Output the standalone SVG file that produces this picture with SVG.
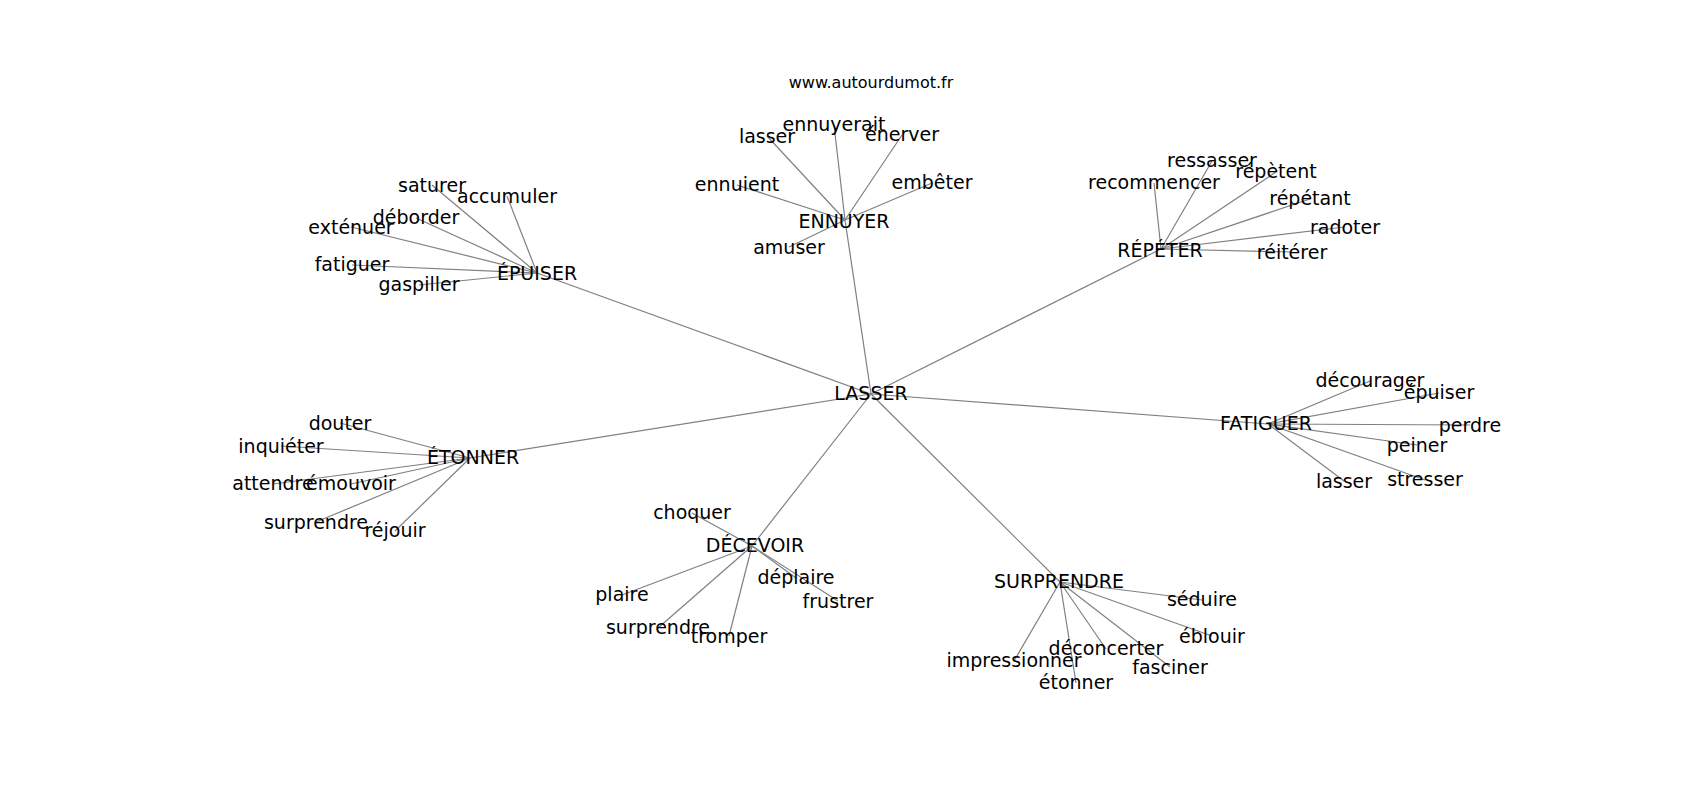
<svg xmlns="http://www.w3.org/2000/svg" width="1700" height="800" viewBox="0 0 1700 800">
<style>
text{font-family:"DejaVu Sans","Liberation Sans",sans-serif;font-size:19px;fill:#000;text-anchor:middle}
.t{font-size:16px}
#edges line{stroke:#808080;stroke-width:1.2}
</style>
<rect width="1700" height="800" fill="#fff"/>
<text class="t" x="871" y="88">www.autourdumot.fr</text>
<g id="edges">
<line x1="871" y1="394" x2="537" y2="273"/>
<line x1="871" y1="394" x2="845" y2="220"/>
<line x1="871" y1="394" x2="1161" y2="249"/>
<line x1="871" y1="394" x2="1268" y2="424"/>
<line x1="871" y1="394" x2="470" y2="458"/>
<line x1="871" y1="394" x2="752" y2="546"/>
<line x1="871" y1="394" x2="1060" y2="582"/>
<line x1="537" y1="273" x2="432" y2="185"/>
<line x1="537" y1="273" x2="507" y2="196"/>
<line x1="537" y1="273" x2="416" y2="218"/>
<line x1="537" y1="273" x2="351" y2="227"/>
<line x1="537" y1="273" x2="352" y2="265"/>
<line x1="537" y1="273" x2="419" y2="285"/>
<line x1="845" y1="220" x2="834" y2="125"/>
<line x1="845" y1="220" x2="767" y2="136"/>
<line x1="845" y1="220" x2="902" y2="135"/>
<line x1="845" y1="220" x2="737" y2="185"/>
<line x1="845" y1="220" x2="932" y2="183"/>
<line x1="845" y1="220" x2="789" y2="247"/>
<line x1="1161" y1="249" x2="1212" y2="161"/>
<line x1="1161" y1="249" x2="1154" y2="183"/>
<line x1="1161" y1="249" x2="1276" y2="172"/>
<line x1="1161" y1="249" x2="1310" y2="199"/>
<line x1="1161" y1="249" x2="1345" y2="227"/>
<line x1="1161" y1="249" x2="1292" y2="252"/>
<line x1="1268" y1="424" x2="1370" y2="381"/>
<line x1="1268" y1="424" x2="1439" y2="393"/>
<line x1="1268" y1="424" x2="1470" y2="425"/>
<line x1="1268" y1="424" x2="1417" y2="445"/>
<line x1="1268" y1="424" x2="1344" y2="481"/>
<line x1="1268" y1="424" x2="1425" y2="480"/>
<line x1="470" y1="458" x2="340" y2="423"/>
<line x1="470" y1="458" x2="281" y2="446"/>
<line x1="470" y1="458" x2="273" y2="484"/>
<line x1="470" y1="458" x2="351" y2="484"/>
<line x1="470" y1="458" x2="316" y2="522"/>
<line x1="470" y1="458" x2="395" y2="531"/>
<line x1="752" y1="546" x2="692" y2="513"/>
<line x1="752" y1="546" x2="796" y2="578"/>
<line x1="752" y1="546" x2="838" y2="601"/>
<line x1="752" y1="546" x2="622" y2="595"/>
<line x1="752" y1="546" x2="658" y2="628"/>
<line x1="752" y1="546" x2="729" y2="636"/>
<line x1="1060" y1="582" x2="1202" y2="600"/>
<line x1="1060" y1="582" x2="1212" y2="636"/>
<line x1="1060" y1="582" x2="1106" y2="649"/>
<line x1="1060" y1="582" x2="1014" y2="661"/>
<line x1="1060" y1="582" x2="1170" y2="667"/>
<line x1="1060" y1="582" x2="1076" y2="683"/>
</g>
<g id="n-lasser"><text x="871" y="400">LASSER</text></g>
<g id="n-epuiser"><text x="537" y="280">ÉPUISER</text></g>
<g id="n-saturer"><text x="432" y="192">saturer</text></g>
<g id="n-accumuler"><text x="507" y="203">accumuler</text></g>
<g id="n-deborder"><text x="416" y="224">déborder</text></g>
<g id="n-extenuer"><text x="351" y="234">exténuer</text></g>
<g id="n-fatiguer1"><text x="352" y="271">fatiguer</text></g>
<g id="n-gaspiller"><text x="419" y="291">gaspiller</text></g>
<g id="n-ennuyer"><text x="844" y="228">ENNUYER</text></g>
<g id="n-ennuyerait"><text x="834" y="131">ennuyerait</text></g>
<g id="n-lasser1"><text x="767" y="143">lasser</text></g>
<g id="n-enerver"><text x="902" y="141">énerver</text></g>
<g id="n-ennuient"><text x="737" y="191">ennuient</text></g>
<g id="n-embeter"><text x="932" y="189">embêter</text></g>
<g id="n-amuser"><text x="789" y="254">amuser</text></g>
<g id="n-repeter"><text x="1160" y="257">RÉPÉTER</text></g>
<g id="n-ressasser"><text x="1212" y="167">ressasser</text></g>
<g id="n-recommencer"><text x="1154" y="189">recommencer</text></g>
<g id="n-repetent"><text x="1276" y="178">répètent</text></g>
<g id="n-repetant"><text x="1310" y="205">répétant</text></g>
<g id="n-radoter"><text x="1345" y="234">radoter</text></g>
<g id="n-reiterer"><text x="1292" y="259">réitérer</text></g>
<g id="n-fatiguer"><text x="1266" y="430">FATIGUER</text></g>
<g id="n-decourager"><text x="1370" y="387">décourager</text></g>
<g id="n-epuiser2"><text x="1439" y="399">épuiser</text></g>
<g id="n-perdre"><text x="1470" y="432">perdre</text></g>
<g id="n-peiner"><text x="1417" y="452">peiner</text></g>
<g id="n-lasser2"><text x="1344" y="488">lasser</text></g>
<g id="n-stresser"><text x="1425" y="486">stresser</text></g>
<g id="n-etonner"><text x="473" y="464">ÉTONNER</text></g>
<g id="n-douter"><text x="340" y="430">douter</text></g>
<g id="n-inquieter"><text x="281" y="453">inquiéter</text></g>
<g id="n-attendre"><text x="273" y="490">attendre</text></g>
<g id="n-emouvoir"><text x="351" y="490">émouvoir</text></g>
<g id="n-surprendre1"><text x="316" y="529">surprendre</text></g>
<g id="n-rejouir"><text x="395" y="537">réjouir</text></g>
<g id="n-decevoir"><text x="755" y="552">DÉCEVOIR</text></g>
<g id="n-choquer"><text x="692" y="519">choquer</text></g>
<g id="n-deplaire"><text x="796" y="584">déplaire</text></g>
<g id="n-frustrer"><text x="838" y="608">frustrer</text></g>
<g id="n-plaire"><text x="622" y="601">plaire</text></g>
<g id="n-surprendre2"><text x="658" y="634">surprendre</text></g>
<g id="n-tromper"><text x="729" y="643">tromper</text></g>
<g id="n-surprendre"><text x="1059" y="588">SURPRENDRE</text></g>
<g id="n-seduire"><text x="1202" y="606">séduire</text></g>
<g id="n-eblouir"><text x="1212" y="643">éblouir</text></g>
<g id="n-deconcerter"><text x="1106" y="655">déconcerter</text></g>
<g id="n-impressionner"><text x="1014" y="667">impressionner</text></g>
<g id="n-fasciner"><text x="1170" y="674">fasciner</text></g>
<g id="n-etonner2"><text x="1076" y="689">étonner</text></g>
</svg>
